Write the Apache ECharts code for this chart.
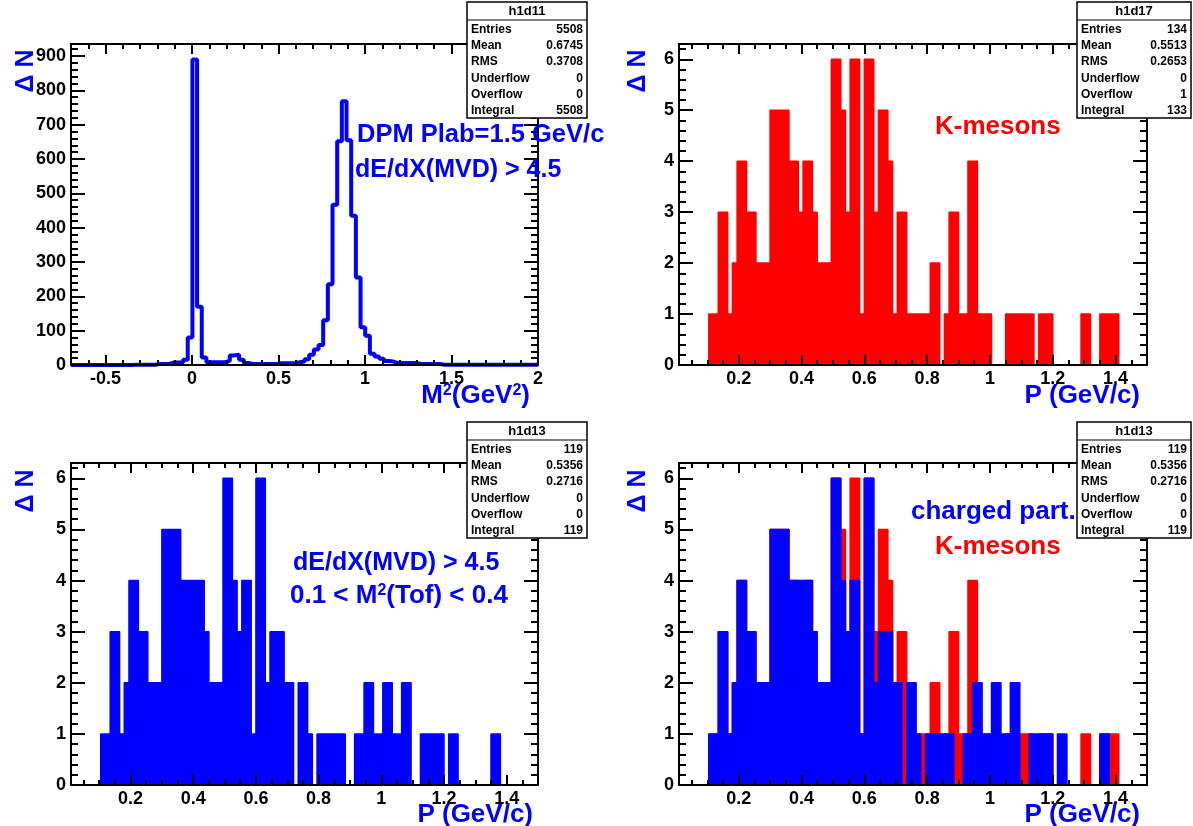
<!DOCTYPE html>
<html><head><meta charset="utf-8">
<script src="https://cdn.jsdelivr.net/npm/echarts@6/dist/echarts.min.js"></script>
<style>html,body{margin:0;padding:0;background:#fff;}#c{width:1193px;height:826px;}</style>
</head><body><div id="c"></div>
<script>
// ---------------- DATA ----------------
// Panel 1: M^2 (GeV^2), 100 bins from -0.7 to 2.0
const m2FirstEdge = -0.7, m2BinWidth = 0.027;
const m2Counts = [
  0,0,0,0,0,0,0,0,0,0, 0,0,0,1,1,1,1,1,3,3,
  3,7,7,7,15,80,890,170,22,8, 8,8,8,12,28,30,15,6,3,3,
  3,3,3,3,5,5,5,5,8,10, 17,30,45,58,130,235,467,652,768,655,
  435,255,110,85,33,25,18,12,10,6, 6,6,6,6,3,3,3,3,3,1,
  1,1,1,1,1,1,1,1,1,1, 1,1,1,1,1,1,1,1,1,1
];
// Panels 2-4: P (GeV/c), 100 bins of 0.015 from 0
const pFirstEdge = 0, pBinWidth = 0.015;
const kaonCounts = [
  0,0,0,0,0,0,0,1,1,3, 3,1,2,4,4,3,3,2,2,2,
  5,5,5,5,4,4,3,4,4,3, 2,2,2,6,6,5,3,6,6,1,
  6,6,3,5,5,4,1,3,3,1, 1,1,1,1,2,2,0,1,3,3,
  1,1,4,4,1,1,1,0,0,0, 1,1,1,1,1,1,0,1,1,1,
  0,0,0,0,0,0,1,1,0,0, 1,1,1,1,0,0,0,0,0,0
];
const chargedCounts = [
  0,0,0,0,0,0,0,1,1,3, 3,1,2,4,4,3,3,2,2,2,
  5,5,5,5,4,4,4,4,4,3, 2,2,2,6,6,4,3,4,4,1,
  6,6,2,3,3,3,2,2,0,2, 2,1,0,1,1,1,1,1,1,0,
  0,1,1,2,2,1,1,2,2,1, 1,2,2,0,0,1,1,1,1,1,
  0,1,1,0,0,0,0,0,0,0, 1,1,0,0,0,0,0,0,0,0
];
// tick labels
const m2TickValues = [-0.5, 0, 0.5, 1, 1.5, 2];
const pTickValues = [0.2, 0.4, 0.6, 0.8, 1, 1.2, 1.4];
const m2CountTicks = [0, 100, 200, 300, 400, 500, 600, 700, 800, 900];
const pCountTicks = [0, 1, 2, 3, 4, 5, 6];
// statistics boxes
const statNames = ['Entries', 'Mean', 'RMS', 'Underflow', 'Overflow', 'Integral'];
const statsM2 = ['5508', '0.6745', '0.3708', '0', '0', '5508'];
const statsKaon = ['134', '0.5513', '0.2653', '0', '1', '133'];
const statsCharged = ['119', '0.5356', '0.2716', '0', '0', '119'];

// ---------------- BUILD ----------------
const FONT = '"Liberation Sans", Arial, Helvetica, sans-serif';
const BLUE = '#0000ff', RED = '#ff0000';

function histPoints(edge0, width, counts) {
  const pts = [];
  for (let i = 0; i < counts.length; i++) pts.push([+(edge0 + width * i).toFixed(5), counts[i]]);
  pts.push([+(edge0 + width * counts.length).toFixed(5), counts[counts.length - 1]]);
  return pts;
}
function minorTicks(min, max, step, majors) {
  const out = [];
  for (let i = Math.ceil(min / step - 1e-9); i * step <= max + 1e-9; i++) {
    const v = +(i * step).toFixed(6);
    if (v < min - 1e-9) continue;
    if (!majors.some(m => Math.abs(m - v) < 1e-9)) out.push(v);
  }
  return out;
}

const panels = [
  {grid: {left: 71, top: 44, width: 467, height: 321}, xMin: -0.7, xMax: 2, xMajor: m2TickValues, xStep: 0.1, yMax: 935, yMajor: m2CountTicks, yStep: 20},
  {grid: {left: 679, top: 44, width: 468, height: 321}, xMin: 0.01, xMax: 1.5, xMajor: pTickValues, xStep: 0.05, yMax: 6.3, yMajor: pCountTicks, yStep: 0.2},
  {grid: {left: 71, top: 463, width: 467, height: 322}, xMin: 0.01, xMax: 1.5, xMajor: pTickValues, xStep: 0.05, yMax: 6.3, yMajor: pCountTicks, yStep: 0.2},
  {grid: {left: 679, top: 463, width: 468, height: 322}, xMin: 0.01, xMax: 1.5, xMajor: pTickValues, xStep: 0.05, yMax: 6.3, yMajor: pCountTicks, yStep: 0.2}
];

const grids = [], xAxes = [], yAxes = [];
const lineBlack = {color: '#000', width: 2};
const labelStyle = {fontSize: 18, fontWeight: 'bold', fontFamily: FONT, color: '#000'};
panels.forEach((p, g) => {
  grids.push(Object.assign({containLabel: false}, p.grid));
  const xMinor = minorTicks(p.xMin, p.xMax, p.xStep, p.xMajor);
  const yMinor = minorTicks(0, p.yMax, p.yStep, p.yMajor);
  const baseX = {gridIndex: g, type: 'value', min: p.xMin, max: p.xMax, splitLine: {show: false}, z: 5};
  const baseY = {gridIndex: g, type: 'value', min: 0, max: p.yMax, splitLine: {show: false}, z: 5};
  [['bottom', true], ['top', false]].forEach(([pos, lab]) => {
    xAxes.push(Object.assign({}, baseX, {position: pos,
      axisLine: {show: true, onZero: false, lineStyle: lineBlack},
      axisTick: {show: true, inside: true, length: 10, customValues: p.xMajor, lineStyle: lineBlack},
      axisLabel: lab ? Object.assign({show: true, customValues: p.xMajor, margin: 5}, labelStyle) : {show: false}}));
    xAxes.push(Object.assign({}, baseX, {position: pos,
      axisLine: {show: false, onZero: false},
      axisTick: {show: true, inside: true, length: 5, customValues: xMinor, lineStyle: lineBlack},
      axisLabel: {show: false}}));
  });
  [['left', true], ['right', false]].forEach(([pos, lab]) => {
    yAxes.push(Object.assign({}, baseY, {position: pos,
      axisLine: {show: true, onZero: false, lineStyle: lineBlack},
      axisTick: {show: true, inside: true, length: 14, customValues: p.yMajor, lineStyle: lineBlack},
      axisLabel: lab ? Object.assign({show: true, customValues: p.yMajor, margin: 5}, labelStyle) : {show: false}}));
    yAxes.push(Object.assign({}, baseY, {position: pos,
      axisLine: {show: false, onZero: false},
      axisTick: {show: true, inside: true, length: 7, customValues: yMinor, lineStyle: lineBlack},
      axisLabel: {show: false}}));
  });
});

function histLine(g, pts, color, filled, width, z) {
  const s = {type: 'line', xAxisIndex: 4 * g, yAxisIndex: 4 * g, data: pts, step: 'end', z: z,
    symbol: 'none', showSymbol: false, clip: true, silent: true,
    lineStyle: {color: color, width: width}, itemStyle: {color: color}};
  if (filled) s.areaStyle = {color: color, opacity: 1};
  return s;
}
const series = [
  histLine(0, histPoints(m2FirstEdge, m2BinWidth, m2Counts), BLUE, false, 4, 2),
  histLine(1, histPoints(pFirstEdge, pBinWidth, kaonCounts), RED, true, 1.5, 2),
  histLine(2, histPoints(pFirstEdge, pBinWidth, chargedCounts), BLUE, true, 1.5, 2),
  histLine(3, histPoints(pFirstEdge, pBinWidth, kaonCounts), RED, true, 1.5, 2),
  histLine(3, histPoints(pFirstEdge, pBinWidth, chargedCounts), BLUE, true, 1.5, 3)
];

// ---------------- TEXT / GRAPHICS ----------------
function txt(x, y, text, color, size, align, extra) {
  return Object.assign({type: 'text', x: x, y: y, z: 20,
    style: {text: text, fill: color, fontSize: size, fontWeight: 'bold', fontFamily: FONT,
      align: align || 'left', verticalAlign: 'middle'}}, extra || {});
}
function richTxt(x, y, text, color, align) {
  return {type: 'text', x: x, y: y, z: 20, style: {text: text, align: align, verticalAlign: 'middle',
    rich: {n: {fill: color, fontSize: 26, fontWeight: 'bold', fontFamily: FONT},
           s: {fill: color, fontSize: 16, fontWeight: 'bold', fontFamily: FONT, verticalAlign: 'top'}}}};
}
function statsBox(x, y, title, values) {
  const w = x > 600 ? 114 : 120, h = 116, Z = 40;
  const children = [
    {type: 'rect', z: Z, shape: {x: 0, y: 0, width: w, height: h}, style: {fill: '#fff', stroke: '#000', lineWidth: 1.5}},
    {type: 'line', z: Z + 1, shape: {x1: 0, y1: 18, x2: w, y2: 18}, style: {stroke: '#000', lineWidth: 1.2}},
    {type: 'text', z: Z + 1, x: w / 2, y: 9.5, style: {text: title, fill: '#000', fontSize: 13, fontWeight: 'bold', fontFamily: FONT, align: 'center', verticalAlign: 'middle'}}
  ];
  statNames.forEach((nm, i) => {
    const cy = 27.5 + i * 16.3;
    children.push({type: 'text', z: Z + 1, x: 4, y: cy, style: {text: nm, fill: '#000', fontSize: 12, fontWeight: 'bold', fontFamily: FONT, align: 'left', verticalAlign: 'middle'}});
    children.push({type: 'text', z: Z + 1, x: w - 4, y: cy, style: {text: values[i], fill: '#000', fontSize: 12, fontWeight: 'bold', fontFamily: FONT, align: 'right', verticalAlign: 'middle'}});
  });
  return {type: 'group', x: x, y: y, z: Z, children: children};
}
const yTitleRot = {rotation: Math.PI / 2};
const graphics = [
  // y-axis titles
  txt(26, 71, 'Δ N', BLUE, 25, 'center', yTitleRot),
  txt(638, 71, 'Δ N', BLUE, 25, 'center', yTitleRot),
  txt(26, 491, 'Δ N', BLUE, 25, 'center', yTitleRot),
  txt(638, 491, 'Δ N', BLUE, 25, 'center', yTitleRot),
  // x-axis titles
  richTxt(530, 396, '{n|M}{s|2}{n|(GeV}{s|2}{n|)}', BLUE, 'right'),
  txt(1140, 396, 'P (GeV/c)', BLUE, 26, 'right'),
  txt(533, 815, 'P (GeV/c)', BLUE, 26, 'right'),
  txt(1140, 815, 'P (GeV/c)', BLUE, 26, 'right'),
  // annotations
  txt(357, 135, 'DPM Plab=1.5 GeV/c', BLUE, 25.5),
  txt(355, 170, 'dE/dX(MVD) > 4.5', BLUE, 25),
  txt(935, 127, 'K-mesons', RED, 26),
  txt(293, 563, 'dE/dX(MVD) > 4.5', BLUE, 25),
  richTxt(290, 596, '{n|0.1 < M}{s|2}{n|(Tof) < 0.4}', BLUE, 'left'),
  txt(911, 512, 'charged part.', BLUE, 26),
  txt(935, 547, 'K-mesons', RED, 26),
  // stats boxes
  statsBox(467, 2, 'h1d11', statsM2),
  statsBox(1077, 2, 'h1d17', statsKaon),
  statsBox(467, 422, 'h1d13', statsCharged),
  statsBox(1077, 422, 'h1d13', statsCharged)
];

const chart = echarts.init(document.getElementById('c'), null, {renderer: 'canvas'});
chart.setOption({
  animation: false,
  backgroundColor: '#fff',
  grid: grids,
  xAxis: xAxes,
  yAxis: yAxes,
  series: series,
  graphic: graphics
});
</script>
</body></html>
